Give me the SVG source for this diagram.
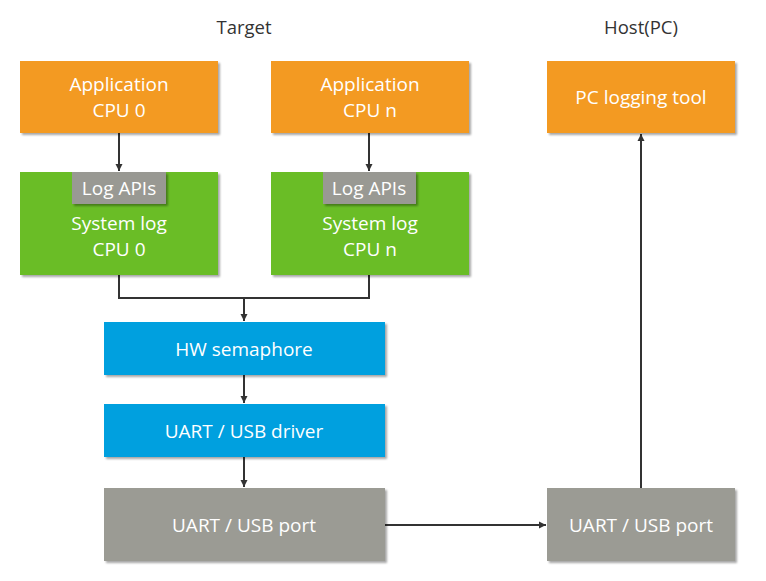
<svg xmlns="http://www.w3.org/2000/svg" width="766" height="581" viewBox="0 0 766 581">
<defs>
<filter id="sh" x="-5%" y="-5%" width="115%" height="125%">
<feGaussianBlur in="SourceAlpha" stdDeviation="1.2"/>
<feOffset dx="1.5" dy="2" result="b"/>
<feComponentTransfer><feFuncA type="linear" slope="0.35"/></feComponentTransfer>
<feMerge><feMergeNode/><feMergeNode in="SourceGraphic"/></feMerge>
</filter>
<marker id="ah" markerWidth="8" markerHeight="8" refX="7" refY="4" orient="auto" markerUnits="userSpaceOnUse">
<path d="M0,0.5 L7,4 L0,7.5 Z" fill="#333"/>
</marker>
<style>
.t{font-family:"Open Sans","Noto Sans",sans-serif;font-size:19px;fill:#fff;text-anchor:middle}
.h{font-family:"Open Sans","Noto Sans",sans-serif;font-size:18.5px;fill:#333;text-anchor:middle}
.or{fill:#F39A21;filter:url(#sh)}
.gr{fill:#6ABD28;filter:url(#sh)}
.bl{fill:#00A0DF;filter:url(#sh)}
.gy{fill:#9B9B94;filter:url(#sh)}
.api{fill:#999993;filter:url(#sh)}
.c{fill:none;stroke:#333;stroke-width:2}
</style>
</defs>
<rect width="766" height="581" fill="#fff"/>
<text class="h" x="244" y="34">Target</text>
<text class="h" x="641" y="34">Host(PC)</text>

<g id="connectors">
<path class="c" d="M119,133 V171" marker-end="url(#ah)"/>
<path class="c" d="M369,133 V171" marker-end="url(#ah)"/>
<path class="c" d="M119,275 V298 H369 V275"/>
<path class="c" d="M244,298 V321" marker-end="url(#ah)"/>
<path class="c" d="M244,375 V403" marker-end="url(#ah)"/>
<path class="c" d="M244,457 V487" marker-end="url(#ah)"/>
<path class="c" d="M385,525 H546" marker-end="url(#ah)"/>
<path class="c" d="M641,488 V134" marker-end="url(#ah)"/>
</g>

<g id="app0"><rect class="or" x="20" y="61" width="198" height="72"/>
<text class="t" x="119" y="91">Application</text><text class="t" x="119" y="117">CPU 0</text></g>
<g id="appn"><rect class="or" x="271" y="61" width="198" height="72"/>
<text class="t" x="370" y="91">Application</text><text class="t" x="370" y="117">CPU n</text></g>
<g id="pctool"><rect class="or" x="547" y="61" width="188" height="72"/>
<text class="t" x="641" y="104">PC logging tool</text></g>

<g id="syslog0"><rect class="gr" x="20" y="172" width="198" height="103"/>
<text class="t" x="119" y="230">System log</text><text class="t" x="119" y="256">CPU 0</text></g>
<g id="api0"><rect class="api" x="72" y="172" width="94" height="32"/>
<text class="t" x="119" y="195">Log APIs</text></g>
<g id="syslogn"><rect class="gr" x="271" y="172" width="198" height="103"/>
<text class="t" x="370" y="230">System log</text><text class="t" x="370" y="256">CPU n</text></g>
<g id="apin"><rect class="api" x="323" y="172" width="93" height="32"/>
<text class="t" x="369" y="195">Log APIs</text></g>

<g id="hwsem"><rect class="bl" x="104" y="322" width="281" height="53"/>
<text class="t" x="244" y="356">HW semaphore</text></g>
<g id="driver"><rect class="bl" x="104" y="404" width="281" height="53"/>
<text class="t" x="244" y="438">UART / USB driver</text></g>
<g id="port0"><rect class="gy" x="104" y="488" width="281" height="73"/>
<text class="t" x="244" y="532">UART / USB port</text></g>
<g id="port1"><rect class="gy" x="547" y="488" width="188" height="73"/>
<text class="t" x="641" y="532">UART / USB port</text></g>
</svg>
